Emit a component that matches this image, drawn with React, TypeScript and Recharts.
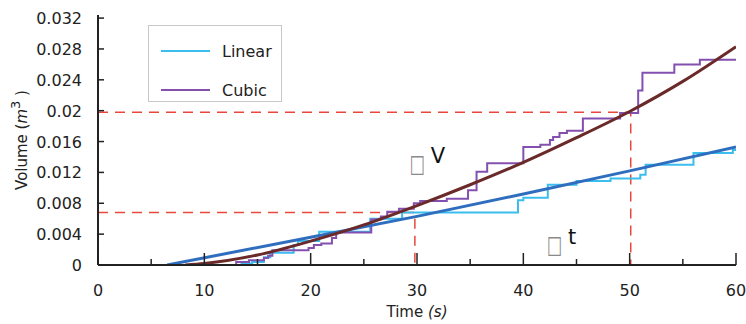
import { LineChart, Line, XAxis, YAxis, Legend, ReferenceDot, Label } from 'recharts'

const timeTicks = [0, 5, 10, 15, 20, 25, 30, 35, 40, 45, 50, 55, 60]
const volumeTicks = [0, 0.002, 0.004, 0.006, 0.008, 0.01, 0.012, 0.014, 0.016, 0.018, 0.02, 0.022, 0.024, 0.026, 0.028, 0.03, 0.032]

// measured step data (stepAfter)
const linearTime = [0, 13.5, 14.5, 15.6, 16.2, 18.4, 18.8, 20.8, 25.6, 28.6, 39.5, 40.0, 42.3, 45.0, 48.2, 51.0, 51.5, 56.0, 59.7, 60]
const linearVolume = [0, 0.0002, 0.0004, 0.001, 0.0016, 0.0026, 0.0031, 0.0043, 0.006, 0.0068, 0.0084, 0.0087, 0.0104, 0.0109, 0.0112, 0.0117, 0.013, 0.0145, 0.0149, 0.0149]

const cubicTime = [0, 13.0, 14.2, 15.6, 16.0, 16.4, 19.8, 20.3, 21.0, 22.0, 22.4, 25.7, 26.6, 27.2, 28.3, 29.7, 30.3, 32.8, 34.8, 35.6, 36.6, 40.0, 41.6, 42.5, 42.8, 43.4, 44.1, 45.6, 49.1, 50.8, 51.2, 54.2, 56.6, 60]
const cubicVolume = [0, 0.0004, 0.0006, 0.0009, 0.0012, 0.0019, 0.0022, 0.0026, 0.0028, 0.0035, 0.0042, 0.0059, 0.0063, 0.0069, 0.0073, 0.008, 0.0083, 0.0086, 0.0097, 0.0121, 0.0132, 0.0153, 0.0156, 0.0162, 0.0166, 0.0171, 0.0174, 0.019, 0.0197, 0.0226, 0.0249, 0.026, 0.0266, 0.0266]

// fitted curves
const linearFitTime = [6.5, 20, 30, 40, 50, 60]
const linearFitVolume = [0, 0.0036, 0.0063, 0.0092, 0.0122, 0.0153]
const cubicFitTime = [8.2, 10, 15, 20, 25, 30, 35, 40, 45, 50, 55, 60]
const cubicFitVolume = [0, 0.0002, 0.0013, 0.0031, 0.0052, 0.0077, 0.0104, 0.0133, 0.0165, 0.0199, 0.0238, 0.0283]

// red guides
const guideLowTime = [0, 29.8, 29.8]
const guideLowVolume = [0.0068, 0.0068, 0]
const guideHighTime = [0, 50.1, 50.1]
const guideHighVolume = [0.0198, 0.0198, 0]

const toRows = (ts: number[], vs: number[]) => ts.map((t, i) => ({ t, v: vs[i] }))

const FONT = '"DejaVu Sans", sans-serif'

function TimeTick({ x, y, payload }: any) {
  const major = payload.value % 10 === 0
  return (
    <g>
      <line x1={x} y1={y} x2={x} y2={y - (major ? 12 : 6)} stroke="#222" strokeWidth={1.5} />
      {major && (
        <text x={x} y={y + 31} textAnchor="middle" fontSize={16} fill="#222" fontFamily={FONT}>
          {payload.value}
        </text>
      )}
    </g>
  )
}

function VolumeTick({ x, y, payload }: any) {
  const k = Math.round(payload.value / 0.002)
  return (
    <g>
      <line x1={x} y1={y} x2={x + 6} y2={y} stroke="#222" strokeWidth={1.5} />
      {k % 2 === 0 && (
        <text x={x - 16} y={y + 6} textAnchor="end" fontSize={16} fill="#222" fontFamily={FONT}>
          {String(Number(payload.value.toFixed(3)))}
        </text>
      )}
    </g>
  )
}

function LegendBox() {
  const items = [
    { name: 'Linear', color: '#3bbdee' },
    { name: 'Cubic', color: '#8450b0' },
  ]
  return (
    <div
      style={{
        width: 134,
        height: 77,
        border: '1px solid #c8c8c8',
        background: '#fff',
        boxSizing: 'border-box',
        paddingTop: 15,
        fontFamily: FONT,
        fontSize: 16,
        color: '#222',
      }}
    >
      {items.map((it) => (
        <div key={it.name} style={{ display: 'flex', alignItems: 'center', height: 20, marginBottom: 19 }}>
          <span style={{ display: 'inline-block', width: 49, height: 2, background: it.color, marginLeft: 12, marginRight: 12 }} />
          <span>{it.name}</span>
        </div>
      ))}
    </div>
  )
}

function DeltaLabel({ viewBox, letter }: any) {
  const { x, y } = viewBox
  return (
    <g fontFamily={FONT}>
      <text transform={`translate(${x - 3},${y}) scale(0.95,1.45)`} fontSize={17} fill="#8a8a8a">□</text>
      <text x={x + 18} y={y - 9} fontSize={21} fill="#111">{letter}</text>
    </g>
  )
}

export default function App() {
  return (
    <div style={{ position: 'absolute', left: 0, top: 0, background: '#fff' }}>
      <LineChart width={746} height={324} margin={{ top: 15, right: 10, bottom: 0, left: 0 }}>
        <XAxis
          type="number"
          dataKey="t"
          domain={[0, 60]}
          ticks={timeTicks}
          tick={<TimeTick />}
          tickSize={0}
          tickMargin={0}
          tickLine={false}
          axisLine={{ stroke: '#222', strokeWidth: 2 }}
          height={59}
          allowDataOverflow
        >
          <Label
            content={({ viewBox }: any) => (
              <text x={viewBox.x + viewBox.width / 2} y={viewBox.y + 52} textAnchor="middle" fontSize={15} fill="#222" fontFamily={FONT}>
                Time <tspan fontStyle="italic">(s)</tspan>
              </text>
            )}
          />
        </XAxis>
        <YAxis
          type="number"
          dataKey="v"
          domain={[0, 0.0324]}
          ticks={volumeTicks}
          tick={<VolumeTick />}
          tickSize={0}
          tickMargin={0}
          tickLine={false}
          axisLine={{ stroke: '#222', strokeWidth: 2 }}
          width={98}
          allowDataOverflow
        >
          <Label
            content={({ viewBox }: any) => {
              const cx = 27
              const cy = viewBox.y + viewBox.height / 2
              return (
                <text x={cx} y={cy} transform={`rotate(-90 ${cx} ${cy})`} textAnchor="middle" fontSize={15} fill="#222" fontFamily={FONT}>
                  Volume (<tspan fontStyle="italic">m</tspan>
                  <tspan dy={-7} fontSize={13}>3</tspan>
                  <tspan dy={7}> )</tspan>
                </text>
              )
            }}
          />
        </YAxis>
        <Legend
          layout="vertical"
          align="center"
          verticalAlign="middle"
          content={() => <LegendBox />}
          wrapperStyle={{ left: 148, top: 25, width: 135 }}
        />
        <Line data={toRows(guideLowTime, guideLowVolume)} dataKey="v" stroke="#e8473c" strokeWidth={1.5} strokeDasharray="10 7" dot={false} legendType="none" isAnimationActive={false} />
        <Line data={toRows(guideHighTime, guideHighVolume)} dataKey="v" stroke="#e8473c" strokeWidth={1.5} strokeDasharray="10 7" dot={false} legendType="none" isAnimationActive={false} />
        <Line name="Linear" data={toRows(linearTime, linearVolume)} dataKey="v" type="stepAfter" stroke="#3bbdee" strokeWidth={2} dot={false} isAnimationActive={false} />
        <Line name="Cubic" data={toRows(cubicTime, cubicVolume)} dataKey="v" type="stepAfter" stroke="#8450b0" strokeWidth={2} dot={false} isAnimationActive={false} />
        <Line data={toRows(linearFitTime, linearFitVolume)} dataKey="v" type="linear" stroke="#2f6ebf" strokeWidth={3} dot={false} legendType="none" isAnimationActive={false} />
        <Line data={toRows(cubicFitTime, cubicFitVolume)} dataKey="v" type="monotone" stroke="#6b2a2a" strokeWidth={3} dot={false} legendType="none" isAnimationActive={false} />
        <ReferenceDot x={29.6} y={0.0121} r={0} fill="none" stroke="none" label={<DeltaLabel letter="V" />} />
        <ReferenceDot x={42.5} y={0.0016} r={0} fill="none" stroke="none" label={<DeltaLabel letter="t" />} />
      </LineChart>
    </div>
  )
}
